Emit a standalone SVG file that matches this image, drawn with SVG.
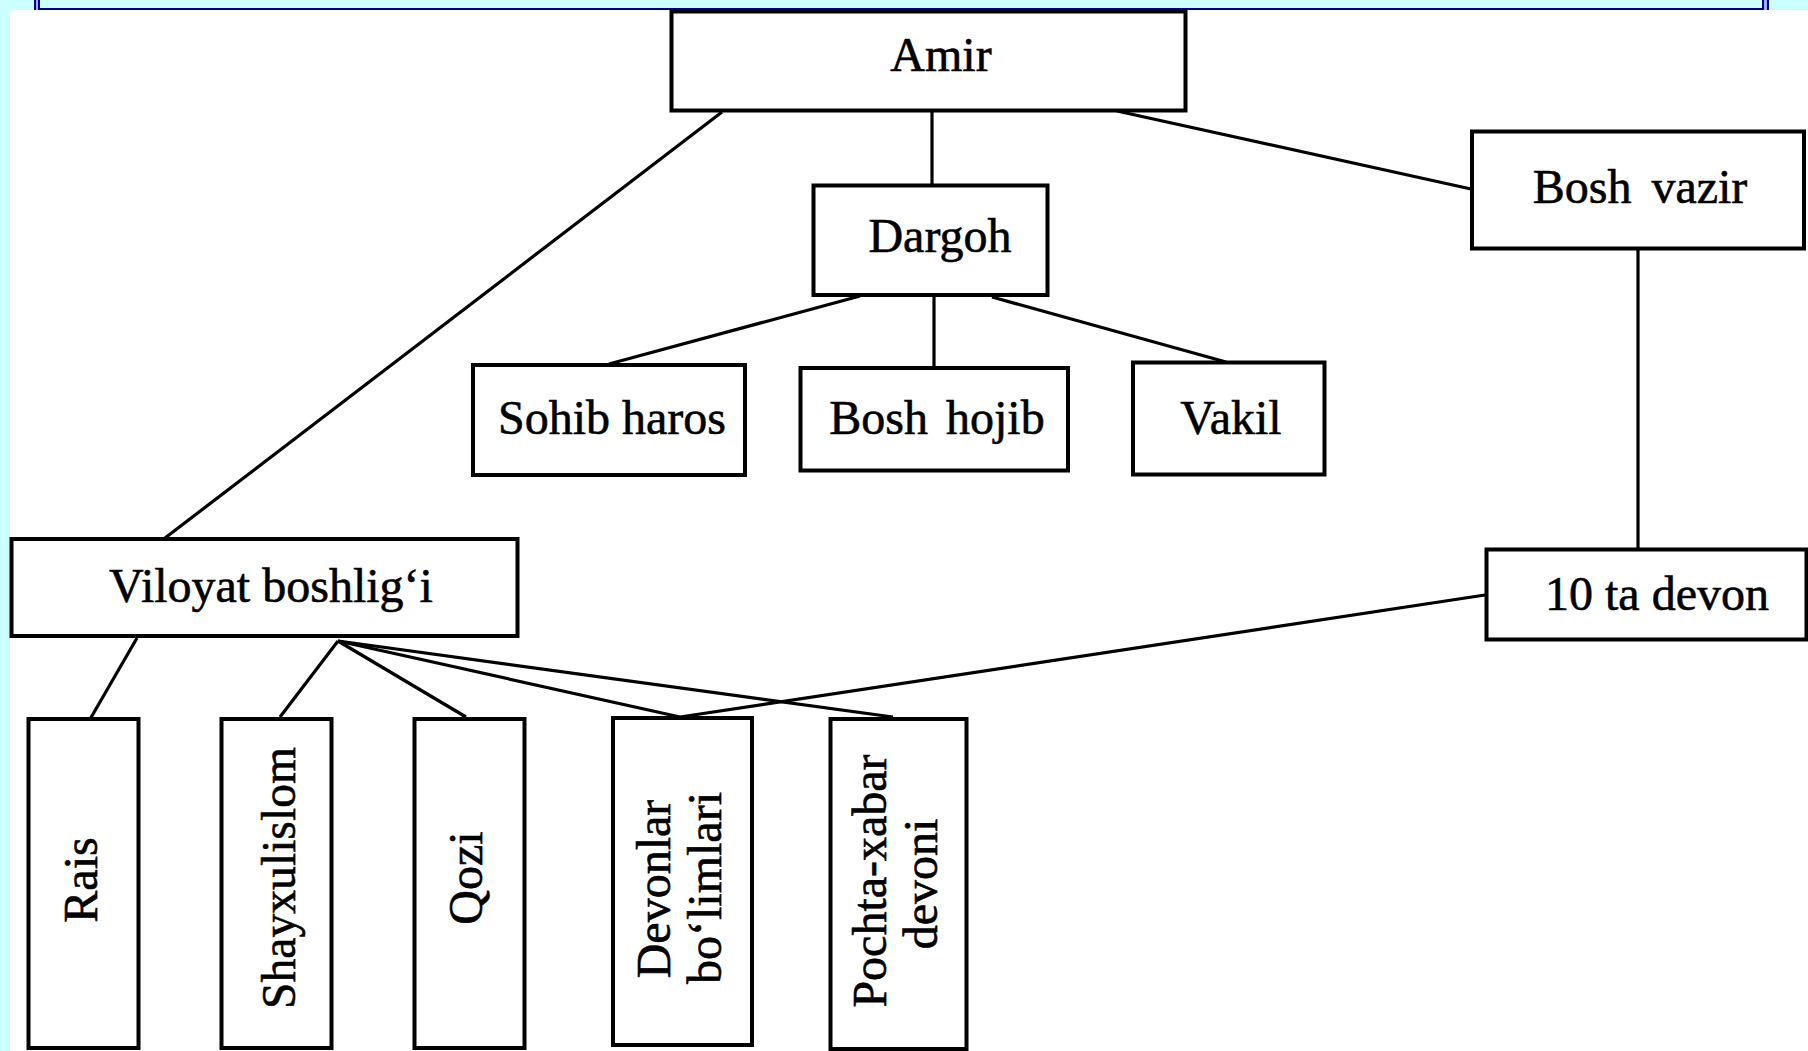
<svg xmlns="http://www.w3.org/2000/svg" width="1808" height="1051" viewBox="0 0 1808 1051">
<style>
.box{fill:#fff;stroke:#000;stroke-width:4}
.lbl{font-family:"Liberation Serif","Times New Roman",serif;font-size:48px;fill:#000;stroke:#000;stroke-width:0.6;text-anchor:middle}
.conn line{stroke:#000;stroke-width:3.2;stroke-linecap:butt}
.frame{stroke:#000080;stroke-width:2;fill:none}
</style>
<rect x="0" y="0" width="1808" height="1051" fill="#ccffff"/>
<rect x="36" y="0" width="2" height="10" fill="#99aaff"/>
<rect x="1764" y="0" width="3" height="10" fill="#99aaff"/>
<line class="frame" x1="35" y1="0" x2="35" y2="10"/>
<line class="frame" x1="39" y1="0" x2="39" y2="10"/>
<line class="frame" x1="1763" y1="0" x2="1763" y2="10"/>
<line class="frame" x1="1768" y1="0" x2="1768" y2="10"/>
<line class="frame" x1="39" y1="9" x2="1763" y2="9"/>
<rect x="10" y="10" width="1798" height="1041" fill="#ffffff"/>

<g id="connectors" class="conn">
<line x1="722" y1="112" x2="165" y2="538"/>
<line x1="932" y1="112" x2="932" y2="185"/>
<line x1="1117" y1="111" x2="1471" y2="189"/>
<line x1="860" y1="296" x2="609" y2="364"/>
<line x1="934" y1="296" x2="934" y2="367"/>
<line x1="992" y1="297" x2="1226" y2="362"/>
<line x1="1638" y1="249" x2="1638" y2="548"/>
<line x1="1485" y1="595" x2="680" y2="717"/>
<line x1="137" y1="638" x2="89" y2="721"/>
<line x1="338" y1="641" x2="280" y2="717"/>
<line x1="338" y1="641" x2="466" y2="717"/>
<line x1="338" y1="641" x2="680" y2="717"/>
<line x1="338" y1="641" x2="893" y2="717"/>
</g>

<g id="amir"><rect class="box" x="671.5" y="11.5" width="514" height="99"/><text class="lbl" x="941" y="71">Amir</text></g>
<g id="dargoh"><rect class="box" x="813.5" y="185.5" width="234" height="109.5"/><text class="lbl" x="940" y="252">Dargoh</text></g>
<g id="bosh-vazir"><rect class="box" x="1472" y="131.5" width="332" height="117"/><text class="lbl" x="1640" y="203" style="word-spacing:8px">Bosh vazir</text></g>
<g id="sohib-haros"><rect class="box" x="473" y="365" width="272" height="110"/><text class="lbl" x="612" y="434">Sohib haros</text></g>
<g id="bosh-hojib"><rect class="box" x="800.5" y="368" width="267.5" height="102.5"/><text class="lbl" x="937" y="434" style="word-spacing:6px">Bosh hojib</text></g>
<g id="vakil"><rect class="box" x="1133" y="362.5" width="191.5" height="112"/><text class="lbl" x="1231" y="434">Vakil</text></g>
<g id="viloyat"><rect class="box" x="11.5" y="539" width="506" height="97"/><text class="lbl" x="271" y="602">Viloyat boshlig‘i</text></g>
<g id="devon10"><rect class="box" x="1486.5" y="549.5" width="320" height="90"/><text class="lbl" x="1657" y="610">10 ta devon</text></g>
<g id="rais"><rect class="box" x="28.5" y="719" width="110" height="329"/><text class="lbl" transform="translate(97,880) rotate(-90)">Rais</text></g>
<g id="shayxulislom"><rect class="box" x="221.5" y="719" width="110" height="329"/><text class="lbl" transform="translate(295,878) rotate(-90)" textLength="262" lengthAdjust="spacingAndGlyphs">Shayxulislom</text></g>
<g id="qozi"><rect class="box" x="414.5" y="719" width="110" height="329"/><text class="lbl" transform="translate(482,878) rotate(-90)">Qozi</text></g>
<g id="devonlar"><rect class="box" x="613" y="718" width="139" height="327"/><text class="lbl" transform="translate(670,889) rotate(-90)">Devonlar</text><text class="lbl" transform="translate(721,888) rotate(-90)">bo‘limlari</text></g>
<g id="pochta"><rect class="box" x="830.5" y="719" width="136" height="330"/><text class="lbl" transform="translate(886,881) rotate(-90)">Pochta-xabar</text><text class="lbl" transform="translate(937,884) rotate(-90)">devoni</text></g>
</svg>
